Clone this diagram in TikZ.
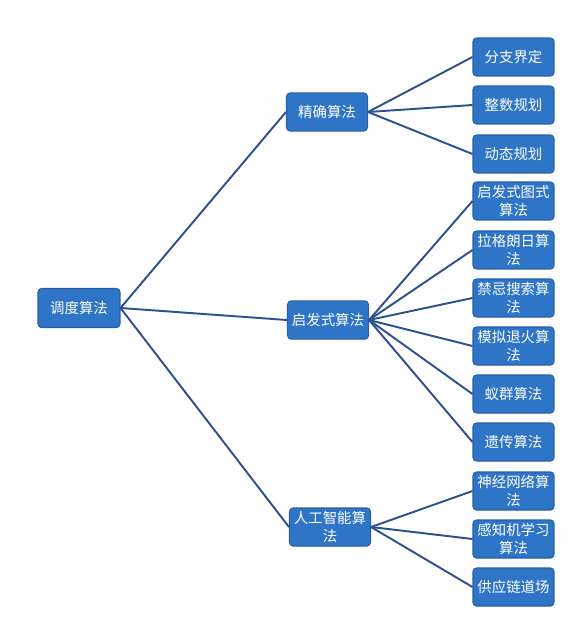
\documentclass[tikz,border=0pt]{standalone}
\usepackage{fontspec}
\setmainfont{Noto Sans CJK SC}
\usetikzlibrary{positioning}
\definecolor{BoxBlue}{RGB}{46,117,200}
\definecolor{BoxEdge}{RGB}{40,95,165}
\definecolor{LinkBlue}{RGB}{45,80,145}
\tikzset{algbox/.style={rectangle,rounded corners=2pt,draw=BoxEdge,line width=0.6pt,fill=BoxBlue,text=white,align=center,inner sep=1pt,minimum width=1.62cm,minimum height=0.76cm,font=\fontsize{8.2}{10.4}\selectfont}, link/.style={draw=LinkBlue,line width=1.1pt}}

\begin{document}
\begin{tikzpicture}[x=0.02cm,y=-0.02cm]
\useasboundingbox (0,0) rectangle (569,622);
\node[algbox,minimum width=1.64cm,minimum height=0.78cm] (root) at (79,308) {调度算法};
\node[algbox] (exact) at (327,112) {精确算法};
\node[algbox] (heur) at (328,320) {启发式算法};
\node[algbox] (ai) at (330,527) {人工智能算\\法};
\node[algbox] (bb) at (513.5,57) {分支界定};
\node[algbox] (ip) at (513.5,105) {整数规划};
\node[algbox] (dp) at (513.5,154) {动态规划};
\node[algbox] (hg) at (513.5,201) {启发式图式\\算法};
\node[algbox] (lr) at (513.5,250) {拉格朗日算\\法};
\node[algbox] (ts) at (513.5,298) {禁忌搜索算\\法};
\node[algbox] (sa) at (513.5,346) {模拟退火算\\法};
\node[algbox] (aco) at (513.5,394) {蚁群算法};
\node[algbox] (ga) at (513.5,442) {遗传算法};
\node[algbox] (nn) at (513.5,491) {神经网络算\\法};
\node[algbox] (pl) at (513.5,539) {感知机学习\\算法};
\node[algbox] (wm) at (513.5,587) {供应链道场};
\draw[link] (root.east) -- (exact.west);
\draw[link] (root.east) -- (heur.west);
\draw[link] (root.east) -- (ai.west);
\draw[link] (exact.east) -- (bb.west);
\draw[link] (exact.east) -- (ip.west);
\draw[link] (exact.east) -- (dp.west);
\draw[link] (heur.east) -- (hg.west);
\draw[link] (heur.east) -- (lr.west);
\draw[link] (heur.east) -- (ts.west);
\draw[link] (heur.east) -- (sa.west);
\draw[link] (heur.east) -- (aco.west);
\draw[link] (heur.east) -- (ga.west);
\draw[link] (ai.east) -- (nn.west);
\draw[link] (ai.east) -- (pl.west);
\draw[link] (ai.east) -- (wm.west);
\end{tikzpicture}
\end{document}
